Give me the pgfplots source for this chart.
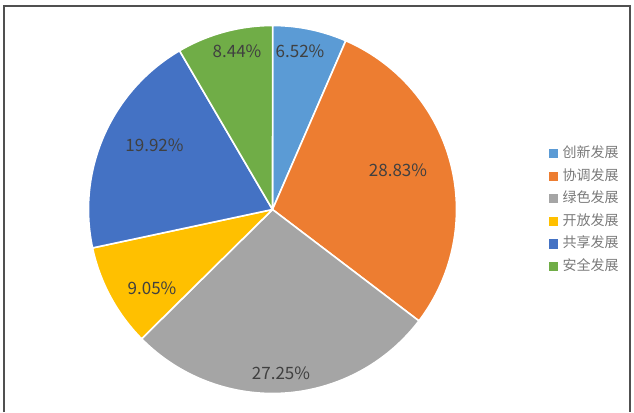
\documentclass[border=0pt]{standalone}
\usepackage{fontspec}
\setmainfont{Noto Sans CJK SC}
\usepackage{pgfplots}
\usepackage{pgfplotstable}
\pgfplotsset{compat=1.18}
\definecolor{pie0}{HTML}{5B9BD5}
\definecolor{pie1}{HTML}{ED7D31}
\definecolor{pie2}{HTML}{A5A5A5}
\definecolor{pie3}{HTML}{FFC000}
\definecolor{pie4}{HTML}{4472C4}
\definecolor{pie5}{HTML}{70AD47}
\definecolor{labelgray}{HTML}{404040}
\definecolor{legendgray}{HTML}{7A7A7A}
\definecolor{framegray}{HTML}{505050}

% share in percent, label position (lx, ly) in axis units
\pgfplotstableread[col sep=comma]{
name,value,lx,ly
创新发展,6.52,300,361
协调发展,28.83,398,242
绿色发展,27.25,281,39
开放发展,9.05,152,124
共享发展,19.92,154.5,267
安全发展,8.44,237,361
}\piedata

\tikzset{pielabel/.style={font=\fontsize{17}{18}\selectfont, text=labelgray, inner sep=0pt}}

\begin{document}
\begin{tikzpicture}
\begin{axis}[
  width=634pt, height=412pt, scale only axis,
  xmin=0, xmax=634, ymin=0, ymax=412,
  hide axis, clip=false,
  legend style={draw=none, fill=none, at={(axis cs:549,265.5)}, anchor=north west,
    font=\fontsize{14}{14}\selectfont, text=legendgray, row sep=8.5pt,
    column sep=5pt, inner sep=0pt,
    nodes={inner sep=0pt, text height=11pt, text depth=3pt}},
  legend cell align=left,
  legend image code/.code={\fill[#1] (0pt,-4pt) rectangle (8pt,4pt);},
]
\path (axis cs:0,0) rectangle (axis cs:634,412);
\draw[framegray, line width=1.2pt] (axis cs:4,0) -- (axis cs:4,406) -- (axis cs:630,406) -- (axis cs:630,0);

\def\startang{90}
\pgfplotsinvokeforeach{0,...,5}{
  \pgfplotstablegetelem{#1}{value}\of\piedata
  \let\val\pgfplotsretval
  \pgfplotstablegetelem{#1}{lx}\of\piedata
  \let\lx\pgfplotsretval
  \pgfplotstablegetelem{#1}{ly}\of\piedata
  \let\ly\pgfplotsretval
  \pgfmathsetmacro\endang{\startang-3.6*\val}
  \edef\temp{\noexpand\fill[pie#1, draw=white, line width=1.6pt, line join=round]
      (axis cs:272.5,202.5) -- ++(\startang:184pt)
      arc[start angle=\startang, end angle=\endang, radius=184pt] -- cycle;
    \noexpand\node[pielabel] at (axis cs:\lx,\ly) {\val\noexpand\%};}
  \temp
  \global\let\startang\endang
}

\addlegendimage{pie0}
\addlegendimage{pie1}
\addlegendimage{pie2}
\addlegendimage{pie3}
\addlegendimage{pie4}
\addlegendimage{pie5}
\legend{创新发展,协调发展,绿色发展,开放发展,共享发展,安全发展}
\end{axis}
\end{tikzpicture}
\end{document}
